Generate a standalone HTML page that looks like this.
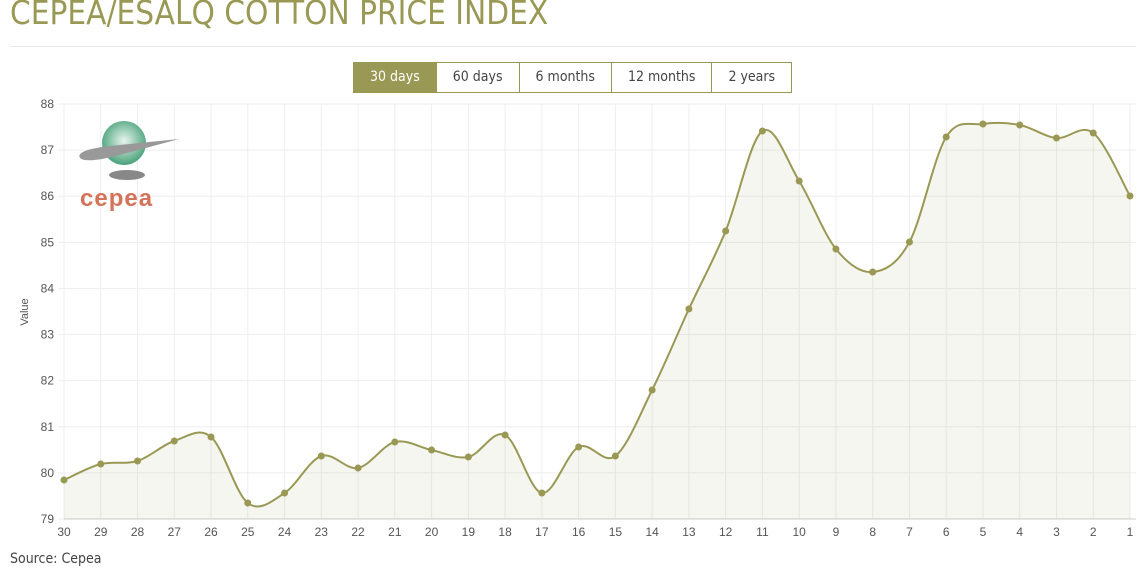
<!DOCTYPE html>
<html><head><meta charset="utf-8"><style>
body{margin:0;background:#fff;width:1146px;height:583px;overflow:hidden;font-family:"Liberation Sans",sans-serif;}
.t{position:absolute;left:10px;top:-7px;font-size:33px;color:#999955;letter-spacing:0px;font-family:"DejaVu Sans Condensed","Liberation Sans Narrow","Liberation Sans",sans-serif;}
.hr{position:absolute;left:10px;top:46px;width:1126px;height:1px;background:#e8e8e8;}
.btns{position:absolute;left:353px;top:62px;display:flex;border:1px solid #999955;height:29px;}
.btns div{padding:0 16px 0 16px;line-height:29px;font-size:14px;color:#444;border-left:1px solid #999955;font-family:"DejaVu Sans Condensed","Liberation Sans",sans-serif;}
.btns div:first-child{border-left:none;background:#999955;color:#fff;}
.src{position:absolute;left:10px;top:551px;font-size:14px;color:#444;font-family:"DejaVu Sans Condensed","Liberation Sans",sans-serif;}
</style></head><body>
<div class="t">CEPEA/ESALQ COTTON PRICE INDEX</div>
<div class="hr"></div>
<div class="btns"><div>30 days</div><div>60 days</div><div>6 months</div><div>12 months</div><div>2 years</div></div>
<svg id="s" width="1146" height="583" style="position:absolute;left:0;top:0" font-family="Liberation Sans, sans-serif"></svg>
<div class="src">Source: Cepea</div>
<script>
const ys=[480,464,461,441,437,503,493,456,468,442,450,457,435,493,447,456,390,309,231,131,181,249,272,242,137,124,125,138,133,196];
const x0=64,dx=(1130-64)/29;
let g='';
for(let i=0;i<30;i++){const x=x0+i*dx;g+=`<line x1="${x}" y1="104" x2="${x}" y2="519" stroke="#eee"/>`;
g+=`<text x="${x}" y="536" font-size="12" fill="#555" text-anchor="middle">${30-i}</text>`;}
for(let v=79;v<=88;v++){const y=519-(v-79)*(415/9);g+=`<line x1="58" y1="${y}" x2="1136" y2="${y}" stroke="#eee"/><text x="54" y="${y+4}" font-size="12" fill="#555" text-anchor="end">${v}</text>`;}
g+=`<line x1="64" y1="519" x2="1136" y2="519" stroke="#ccc"/>`;
g+=`<text transform="translate(28,312) rotate(-90)" font-size="11" fill="#555" text-anchor="middle">Value</text>`;
const P=ys.map((y,i)=>[x0+i*dx,y]);
let d=`M${P[0][0]},${P[0][1]}`;
for(let i=0;i<29;i++){const p0=P[Math.max(0,i-1)],p1=P[i],p2=P[i+1],p3=P[Math.min(29,i+2)];
const c1=[p1[0]+(p2[0]-p0[0])/6,p1[1]+(p2[1]-p0[1])/6],c2=[p2[0]-(p3[0]-p1[0])/6,p2[1]-(p3[1]-p1[1])/6];
d+=` C${c1[0]},${c1[1]} ${c2[0]},${c2[1]} ${p2[0]},${p2[1]}`;}
g+=`<path d="${d} L1130,519 L64,519Z" fill="#999955" fill-opacity="0.09"/>`;
g+=`<path d="${d}" fill="none" stroke="#999955" stroke-width="2"/>`;
P.forEach(p=>g+=`<circle cx="${p[0]}" cy="${p[1]}" r="3.5" fill="#999955"/>`);
g+=`<ellipse cx="127" cy="175" rx="18" ry="5" fill="#888"/>
<radialGradient id="gg" cx="0.5" cy="0.45" r="0.6"><stop offset="0" stop-color="#e8f5ee"/><stop offset="1" stop-color="#3a9a70"/></radialGradient>
<circle cx="124" cy="143" r="22" fill="url(#gg)"/>
<path d="M80,158 Q75,150 110,146 L179,139 L112,157 Q85,163 80,158Z" fill="#999"/>
<text x="80" y="206" font-size="24" font-weight="bold" fill="#d4735a" letter-spacing="1">cepea</text>`;
document.getElementById('s').innerHTML=g;
</script>
</body></html>
